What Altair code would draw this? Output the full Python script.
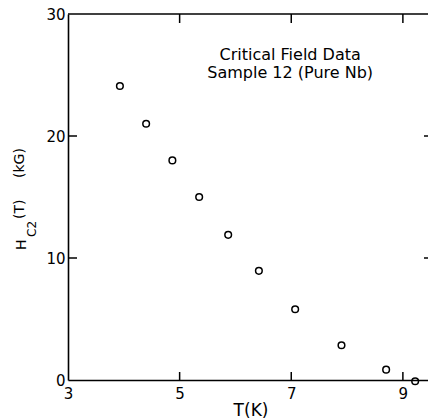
import altair as alt
import pandas as pd

# ---- data ----
T_K = [3.93, 4.40, 4.87, 5.35, 5.87, 6.42, 7.07, 7.90, 8.70, 9.22]
H_kG = [24.1, 21.0, 18.0, 15.0, 11.9, 8.95, 5.8, 2.85, 0.85, -0.1]
x_labels = [3, 5, 7, 9]
y_labels = [0, 10, 20, 30]
x_inner_ticks = [5, 7, 9]
y_inner_ticks = [10, 20]
x_domain = [3, 9.45]
y_domain = [0, 30]
note_lines = ["Critical Field Data", "Sample 12 (Pure Nb)"]
note_x = [6.98, 6.98]
note_y = [26.2, 24.75]

FONT = "DejaVu Sans"
INK = "black"
W, H = 360, 366

xscale = alt.Scale(domain=x_domain, nice=False, zero=False)
yscale = alt.Scale(domain=y_domain, nice=False, zero=False)
xaxis = alt.Axis(values=x_labels, ticks=False, grid=False, title=None,
                 domainColor=INK, domainWidth=1.6, labelColor=INK,
                 labelFont=FONT, labelFontSize=15, labelPadding=6,
                 labelFlush=False, labelOverlap=False)
yaxis = alt.Axis(values=y_labels, ticks=False, grid=False, title=None,
                 domainColor=INK, domainWidth=1.6, labelColor=INK,
                 labelFont=FONT, labelFontSize=15, labelPadding=3,
                 labelFlush=False, labelOverlap=False, labelBaseline="middle")


def X(f):
    return alt.X(f, type="quantitative", scale=xscale, axis=xaxis)


def Y(f):
    return alt.Y(f, type="quantitative", scale=yscale, axis=yaxis)


pts = pd.DataFrame({"T": T_K, "H": H_kG})
points = alt.Chart(pts).mark_point(shape="circle", filled=False, size=44,
                                   strokeWidth=1.5, color=INK, opacity=1).encode(
    x=X("T"), y=Y("H"))

top_line = alt.Chart(pd.DataFrame({"y": [y_domain[1]]})).mark_rule(
    color=INK, strokeWidth=1.6).encode(y=Y("y"))

xt = pd.DataFrame({"x": x_inner_ticks})
yt = pd.DataFrame({"y": y_inner_ticks})
rule = dict(color=INK, strokeWidth=1.5)
bottom_ticks = alt.Chart(xt).mark_rule(**rule).encode(
    x=X("x"), y=alt.value(H), y2=alt.value(H - 8))
top_ticks = alt.Chart(xt).mark_rule(**rule).encode(
    x=X("x"), y=alt.value(0), y2=alt.value(9))
left_ticks = alt.Chart(yt).mark_rule(**rule).encode(
    y=Y("y"), x=alt.value(0), x2=alt.value(9))
right_ticks = alt.Chart(yt).mark_rule(**rule).encode(
    y=Y("y"), x=alt.value(W), x2=alt.value(W - 4))

notes = alt.Chart(pd.DataFrame({"x": note_x, "y": note_y, "t": note_lines})).mark_text(
    font=FONT, fontSize=16, color=INK, align="center", baseline="alphabetic").encode(
    x=X("x"), y=Y("y"), text="t:N")


def label(txt, x, y, size, angle=None, align="left"):
    kw = dict(font=FONT, fontSize=size, color=INK, align=align, baseline="alphabetic")
    if angle is not None:
        kw["angle"] = angle
    return alt.Chart(pd.DataFrame({"t": [txt]})).mark_text(**kw).encode(
        x=alt.value(x), y=alt.value(y), text="t:N")


ytitle = [
    label("H", -42, 236, 14, 270),
    label("C2", -32, 223, 12, 270),
    label("(T)", -44, 205, 14, 270),
    label("(kG)", -44, 164, 14, 270),
]
xtitle = label("T(K)", 183, 402, 17, align="center")

chart = alt.layer(points, top_line, bottom_ticks, top_ticks, left_ticks, right_ticks,
                  notes, *ytitle, xtitle).properties(
    width=W, height=H,
    autosize=alt.AutoSizeParams(type="none"),
    padding={"left": 68, "top": 14, "right": 0, "bottom": 39},
    background="white",
).configure_view(stroke=None)

chart.save("out.html", embed_options={"renderer": "svg", "actions": False})
